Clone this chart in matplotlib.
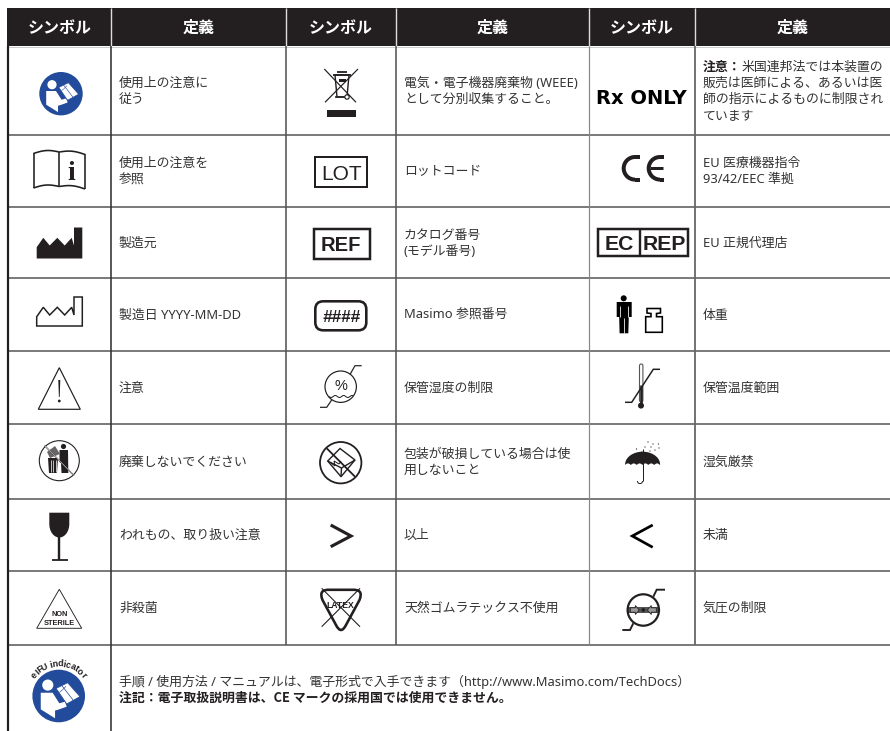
import numpy as np
import matplotlib
matplotlib.use('Agg')
import matplotlib.pyplot as plt
from matplotlib.patches import Circle, Polygon, Rectangle, FancyBboxPatch, Arc, PathPatch
from matplotlib.path import Path

plt.rcParams['font.family'] = ['Noto Sans', 'Noto Sans CJK JP', 'DejaVu Sans']
BOLD_FONT = ['Noto Sans CJK JP', 'DejaVu Sans']

headers = ['シンボル', '定義', 'シンボル', '定義', 'シンボル', '定義']

col1_text = [['使用上の注意に', '従う'], ['使用上の注意を', '参照'], ['製造元'], ['製造日 YYYY-MM-DD'],
             ['注意'], ['廃棄しないでください'], ['われもの、取り扱い注意'], ['非殺菌']]
col2_text = [['電気・電子機器廃棄物 (WEEE)', 'として分別収集すること。'], ['ロットコード'], ['カタログ番号', '(モデル番号)'],
             ['Masimo 参照番号'], ['保管湿度の制限'], ['包装が破損している場合は使', '用しないこと'], ['以上'],
             ['天然ゴムラテックス不使用']]
col3_text = [['', '販売は医師による、あるいは医', '師の指示によるものに制限され', 'ています'],
             ['EU 医療機器指令', '93/42/EEC 準拠'], ['EU 正規代理店'], ['体重'], ['保管温度範囲'], ['湿気厳禁'],
             ['未満'], ['気圧の制限']]
rx_bold = '注意：'
rx_rest = '米国連邦法では本装置の'
foot_lines = ['手順 / 使用方法 / マニュアルは、電子形式で入手できます（http://www.Masimo.com/TechDocs）',
              '注記：電子取扱説明書は、CE マークの採用国では使用できません。']
eifu_label = 'eIFU indicator'

row_edges = [46, 135, 207, 278, 351, 423.5, 499, 571, 644.5]
col_edges = [8, 110.5, 286, 395.5, 589, 695, 890]
text_x = [119, 404, 703]

DARK = '#231f20'
BLUE = '#234b9b'
TXT = '#333333'
PX = 0.72  # px -> pt at dpi 100

fig = plt.figure(figsize=(8.9, 7.31), dpi=100)
ax = fig.add_axes([0, 0, 1, 1])
ax.set_xlim(0, 890)
ax.set_ylim(731, 0)
ax.axis('off')


def line(xs, ys, lw=1.2, c=DARK, z=4, cap='butt'):
    ax.plot(xs, ys, color=c, lw=lw * PX, zorder=z, solid_capstyle=cap, solid_joinstyle='miter')


def poly(pts, fc=DARK, ec='none', lw=0, z=4):
    ax.add_patch(Polygon(pts, closed=True, fc=fc, ec=ec, lw=lw * PX, zorder=z, joinstyle='miter'))


def ring(cx, cy, r, lw=1.2, fc='none', ec=DARK, z=4):
    ax.add_patch(Circle((cx, cy), r, fc=fc, ec=ec, lw=lw * PX, zorder=z))


def label(x, y, s, size, **kw):
    ax.text(x, y, s, fontsize=size, zorder=5, **kw)


def sans(x, y, s, size, **kw):
    ax.text(x, y, s, fontsize=size, family='Liberation Sans', weight='bold', ha='center', va='center_baseline',
            color=kw.pop('color', DARK), zorder=5, **kw)


def reader(cx, cy, r):
    s = r / 21.7
    ring(cx, cy, r, lw=0, fc=BLUE, ec=BLUE)
    ring(cx - 9 * s, cy - 9 * s, 4.6 * s, lw=0, fc='white', ec='white', z=5)
    body = [(-14.8, -2.7), (-5, -2.7), (0.5, 6), (5.2, 4.7), (6.6, 8.8), (-1, 11.5), (-3, 12), (-3, 18.4), (-14.8, 11)]
    poly([(cx + a * s, cy + b * s) for a, b in body], fc='white', z=5)
    book = [(-2.2, -6.3), (7.4, -11), (17.6, 0.5), (6.6, 6.6)]
    poly([(cx + a * s, cy + b * s) for a, b in book], fc='white', ec=BLUE, lw=0.7 * s, z=6)
    line([cx + 2.6 * s, cx + 12 * s], [cy - 8.6 * s, cy + 3.5 * s], lw=0.6 * s, c=BLUE, z=7)
    line([cx + 0.5 * s, cx + 3 * s, cx + 6 * s], [cy - 3 * s, cy - 5 * s, cy - 8 * s], lw=0.5 * s, c=BLUE, z=7)


def book_i():
    t = np.linspace(0, 1, 30)
    xl = 33.5 + t * 25.7
    xr = 59.3 + t * 25.7
    top_l = 153.5 - 2.2 * np.sin(t * np.pi) - 1.5 * t
    top_r = 152 - 2 * np.sin(t * np.pi) + 2.5 * t
    line(xl, top_l, lw=1.6)
    line(xr, top_r, lw=1.6)
    line(xl, top_l + 34.5, lw=1.6)
    line(xr, top_r + 34.5, lw=1.6)
    line([33.5, 33.5], [153, 188.2], lw=1.6)
    line([85, 85], [153.7, 189], lw=1.6)
    line([59.3, 59.3], [151.5, 186.5], lw=1.6)
    label(71.5, 179.5, 'i', 20, family='Liberation Serif', weight='bold', ha='center', va='baseline', color=DARK)


def factory_pts(x0, y0, h):
    return [(x0, y0 + h), (x0, y0 + 19.7), (x0 + 6.6, y0 + 10.3), (x0 + 13, y0 + 18), (x0 + 20.6, y0 + 10.3),
            (x0 + 28, y0 + 18), (x0 + 35, y0 + 10.3), (x0 + 37.3, y0 + 18), (x0 + 37.3, y0), (x0 + 45.6, y0),
            (x0 + 45.6, y0 + h)]


def weee():
    poly([(335, 75), (349, 75), (347, 97), (337, 97)], fc='white', ec=DARK, lw=1.4)
    line([333, 351], [74.5, 74.5], lw=1.8)
    line([337, 347], [72, 72], lw=1.8)
    poly([(339, 79), (346, 79), (346, 82), (339, 82)])
    line([324.3, 356], [69, 102.3], lw=1.2, z=5)
    line([358, 325], [69, 102.3], lw=1.2, z=5)
    ring(347, 97, 2.2, lw=1.2, fc='white', z=5)
    line([335, 349], [97, 97], lw=1.6)
    ax.add_patch(Rectangle((326.8, 110), 29.2, 6.8, fc=DARK, ec='none', zorder=4))


def no_trash():
    ring(59.3, 460.7, 20, lw=1.1)
    ring(63.5, 446.5, 2.6, lw=0, fc=DARK)
    poly([(59.5, 450), (68, 450), (68.3, 473), (61.5, 473), (61, 463), (59.5, 462)])
    poly([(48, 458), (58, 458), (57, 473), (49, 473)])
    poly([(47, 452), (55, 446), (60, 454), (50, 458)], fc='#666666')
    for x in [50.5, 53, 55.5]:
        line([x, x], [460, 472], lw=0.7, c='white', z=5)
    line([44.5, 74], [445.5, 475.5], lw=1.2, z=6)
    line([44.5, 74], [445.5, 475.5], lw=0.5, c='white', z=6)


def glass():
    a = np.linspace(0, np.pi, 24)
    bowl = np.c_[59.3 + 10 * np.cos(a), 524 + 13.5 * np.sin(a)]
    poly(np.r_[[(69.3, 512.7)], bowl, [(49.3, 512.7)]])
    line([59.3, 59.3], [535, 560], lw=2.4)
    line([52, 67.5], [560.3, 560.3], lw=1.8)


def latex():
    v = [(330, 589.8), (352, 589.8), (364, 589), (359.5, 600), (346, 625), (341, 635), (336, 625), (322.5, 600),
         (318, 589), (330, 589.8)]
    codes = [Path.MOVETO, Path.LINETO, Path.CURVE3, Path.CURVE3, Path.LINETO, Path.CURVE3, Path.CURVE3, Path.LINETO,
             Path.CURVE3, Path.CURVE3]
    ax.add_patch(PathPatch(Path(v, codes), fc='none', ec=DARK, lw=2.6 * PX, zorder=4))
    line([321.7, 360], [626.7, 588.3], lw=1.1)
    line([321.7, 360], [588.3, 626.7], lw=1.1)
    sans(340.7, 605, 'LATEX', 6.2)


def no_box():
    ring(340.7, 462.7, 20.7, lw=1.8)
    line([326.7, 355], [448.3, 476.7], lw=1.8)
    poly([(340, 448.5), (355, 460), (341, 476.7), (327.7, 461)], fc='none', ec=DARK, lw=1.4)
    line([327.7, 341.5, 355], [461, 468, 460], lw=1.4)
    line([341.5, 341], [468, 476.7], lw=1.4)
    line([331, 335, 334, 339, 341], [463, 466, 461, 464, 461], lw=1)


def humidity():
    ring(340.7, 386.7, 15.7, lw=1.2)
    line([350, 355, 361.7], [374.5, 365.7, 365.7], lw=1.2)
    line([331.7, 326.7, 320], [400, 407.3, 407.3], lw=1.2)
    label(341, 389.5, '%', 10.5, family='Liberation Sans', ha='center', va='baseline', color=DARK)
    t = np.linspace(0, 1, 60)
    line(329 + 24 * t, 396.5 + 1 * np.sin(t * 18), lw=1)


def weight_icon():
    ring(623.7, 298.3, 3, lw=0, fc='black', ec='black')
    poly([(616.7, 302), (631.7, 302), (631.7, 317), (628.8, 317), (628.3, 333.3), (619.6, 333.3), (619.2, 317),
          (616.7, 317)], fc='black')
    line([620.2, 620.2], [306, 317], lw=0.8, c='white', z=5)
    line([627.9, 627.9], [306, 317], lw=0.8, c='white', z=5)
    line([624, 624], [318, 333.3], lw=0.8, c='white', z=5)
    poly([(645.7, 332.3), (662.3, 332.3), (662.3, 316.7), (656.5, 316.7), (656.5, 313.5), (660.5, 313),
          (660.5, 308.5), (647, 308.5), (647, 313), (651, 313.5), (651, 316.7), (645.7, 316.7)],
         fc='white', ec='black', lw=1.6)


def thermo():
    line([625, 631.7, 653.3, 660], [402.3, 402.3, 369.3, 369.3], lw=1.5, z=5)
    ax.add_patch(FancyBboxPatch((639.5, 364), 3.4, 38, boxstyle='round,pad=0,rounding_size=1.7',
                                fc='white', ec='#555555', lw=0.8, zorder=4))
    line([641.2, 641.2], [385, 404], lw=2.6, z=4)
    ring(641, 405.6, 3, lw=0, fc=DARK)


def umbrella():
    t = np.linspace(np.pi, 0, 40)
    u = np.linspace(0, 1, 48)
    top = np.c_[642.6 + 17.5 * np.cos(t), 464.5 - 12.8 * np.sin(t)]
    low = np.c_[660 - 35 * u, 465 - 1.6 * np.abs(np.sin(u * np.pi * 6))]
    poly(np.r_[top, low])
    line([642.6, 642.6], [449, 481], lw=1)
    a = np.linspace(0, np.pi, 12)
    line(640 + 2.6 * np.cos(a), 481 + 2.6 * np.sin(a), lw=1)
    for x, y in [(648, 442), (653, 444), (658.5, 444), (659, 448), (651, 447), (645, 447), (636.5, 449), (642, 452),
                 (650, 451), (655, 450)]:
        ring(x, y, 0.6, lw=0, fc=DARK)


def pressure():
    ring(643.3, 610, 15.7, lw=2.2)
    line([653.3, 656.7, 665], [596.7, 589.7, 589.7], lw=1.9)
    line([633.3, 630, 622.3], [623.3, 630, 630], lw=1.9)
    line([627.5, 659], [610, 610], lw=6, c='#555555', z=3)
    ring(643.3, 610, 1.9, lw=0, fc=DARK, z=6)
    for side in [-1, 1]:
        x0 = 643.3 + side * 13
        x1 = 643.3 + side * 4
        xm = 643.3 + side * 8
        poly([(x1, 610), (xm, 605.5), (xm, 607.8), (x0, 607.8), (x0, 612.2), (xm, 612.2), (xm, 614.5)],
             fc='#999999', ec=DARK, lw=0.8, z=5)


def ce():
    for cx, tip in [(635, 640), (660, 664)]:
        ax.add_patch(Arc((cx, 168.3), 22.6, 22.6, theta1=90, theta2=270, ec=DARK, lw=4 * PX, zorder=4))
        line([cx, tip], [157, 157], lw=4)
        line([cx, tip], [179.6, 179.6], lw=4)
    line([650, 662.5], [168.3, 168.3], lw=3)


# header and grid
ax.add_patch(Rectangle((7, 8), 883, 38, fc=DARK, ec='none', zorder=1))
for i, h in enumerate(headers):
    x = (col_edges[i] + col_edges[i + 1]) / 2
    label(x, 33, h, 11.5, color='white', family=BOLD_FONT, weight='bold', ha='center', va='baseline')
for x in col_edges[1:6]:
    line([x, x], [8, 46], lw=1.4, c='#dddddd', z=2)
for y in row_edges[1:]:
    line([8, 890], [y, y], lw=1.7, c='#666666', z=2)
line([8, 890], [46.5, 46.5], lw=1, c='#cccccc', z=2)
line([8, 8], [46, 731], lw=2.2, c=DARK, z=3)
line([110.5, 110.5], [46, 731], lw=1.6, c='#333333', z=3)
line([286, 286], [46, 644.5], lw=1.6, c='#555555', z=3)
line([395.7, 395.7], [46, 644.5], lw=1.6, c='#555555', z=3)
line([589, 589], [46, 644.5], lw=1.2, c='#888888', z=3)
line([695, 695], [46, 644.5], lw=1.8, c='#666666', z=3)

# definitions
for tx, col in zip(text_x, [col1_text, col2_text, col3_text]):
    for r, lines in enumerate(col):
        mid = (row_edges[r] + row_edges[r + 1]) / 2
        for k, s in enumerate(lines):
            y = mid + (k - (len(lines) - 1) / 2) * 16 - 0.5 + 4.7
            label(tx, y, s, 9.3, color=TXT, ha='left', va='baseline')
label(text_x[2], 70.4, rx_bold, 9.3, color=DARK, family=BOLD_FONT, weight='bold', ha='left', va='baseline')
label(text_x[2] + 39, 70.4, rx_rest, 9.3, color=TXT, ha='left', va='baseline')
label(119, 685.7, foot_lines[0], 9.3, color=TXT, ha='left', va='baseline')
label(119, 701.7, foot_lines[1], 9.3, color=DARK, family=BOLD_FONT, weight='bold', ha='left', va='baseline')

# symbols, column 1
reader(61, 93.7, 21.7)
book_i()
poly(factory_pts(36.7, 227.5, 31))
poly(factory_pts(36.7, 297, 29), fc='white', ec=DARK, lw=1.5)
poly([(59.3, 367.7), (80.3, 409.3), (38.3, 409.3)], fc='white', ec=DARK, lw=1.2)
poly([(58.3, 380), (60.3, 380), (59.7, 397), (58.9, 397)])
ring(59.3, 401, 1.4, lw=0, fc=DARK)
no_trash()
glass()
poly([(59.3, 589.3), (81.7, 628.3), (36.7, 628.3)], fc='white', ec=DARK, lw=0.9)
sans(59.3, 613.5, 'NON', 5.3)
sans(59.3, 622.5, 'STERILE', 5.3)
reader(58.7, 696, 26.3)
widths = [0.6 if c in 'iIt l' else 1.0 for c in eifu_label]
pos = np.cumsum([0] + widths[:-1]) + np.array(widths) / 2
ang = 144 - 108 * pos / sum(widths)
for c, a in zip(eifu_label, ang):
    rad = np.deg2rad(a)
    ax.text(58.7 + 29.5 * np.cos(rad), 696 - 29.5 * np.sin(rad), c, fontsize=6.4, family='Liberation Sans',
            weight='bold', rotation=a - 90, rotation_mode='anchor', ha='center', va='baseline', color=DARK, zorder=5)

# symbols, column 2
weee()
ax.add_patch(Rectangle((314.7, 157.3), 52, 29.5, fc='white', ec=DARK, lw=2 * PX, zorder=4))
ax.text(342, 172.3, 'LOT', fontsize=15, family='Liberation Sans', ha='center', va='center_baseline', color=DARK, zorder=5)
ax.add_patch(Rectangle((313.5, 228.5), 56, 30, fc='white', ec=DARK, lw=2.5 * PX, zorder=4))
sans(341, 243.5, 'REF', 14.5)
ax.add_patch(FancyBboxPatch((315.3, 301.3), 51, 29, boxstyle='round,pad=0,rounding_size=8', fc='white', ec=DARK, lw=2.6 * PX, zorder=4))
sans(341, 316.5, '####', 12.3, style='italic')
humidity()
no_box()
line([330.7, 351, 330.7], [525, 536, 546.7], lw=3.1)
latex()

# symbols, column 3
ax.text(641.5, 96.7, 'Rx ONLY', fontsize=14, family='DejaVu Sans', weight='bold', ha='center', va='center_baseline', color='black', zorder=5)
ce()
ax.add_patch(Rectangle((598, 229), 90, 27, fc='white', ec=DARK, lw=2.5 * PX, zorder=4))
line([640, 640], [229, 256], lw=2.4)
sans(619, 242.8, 'EC', 15.2)
sans(664, 242.8, 'REP', 15.2)
weight_icon()
thermo()
umbrella()
line([652.7, 632.3, 652.7], [525, 536, 547.3], lw=2.7, c='black')
pressure()

fig.savefig('out.png', dpi=100, facecolor='white')
